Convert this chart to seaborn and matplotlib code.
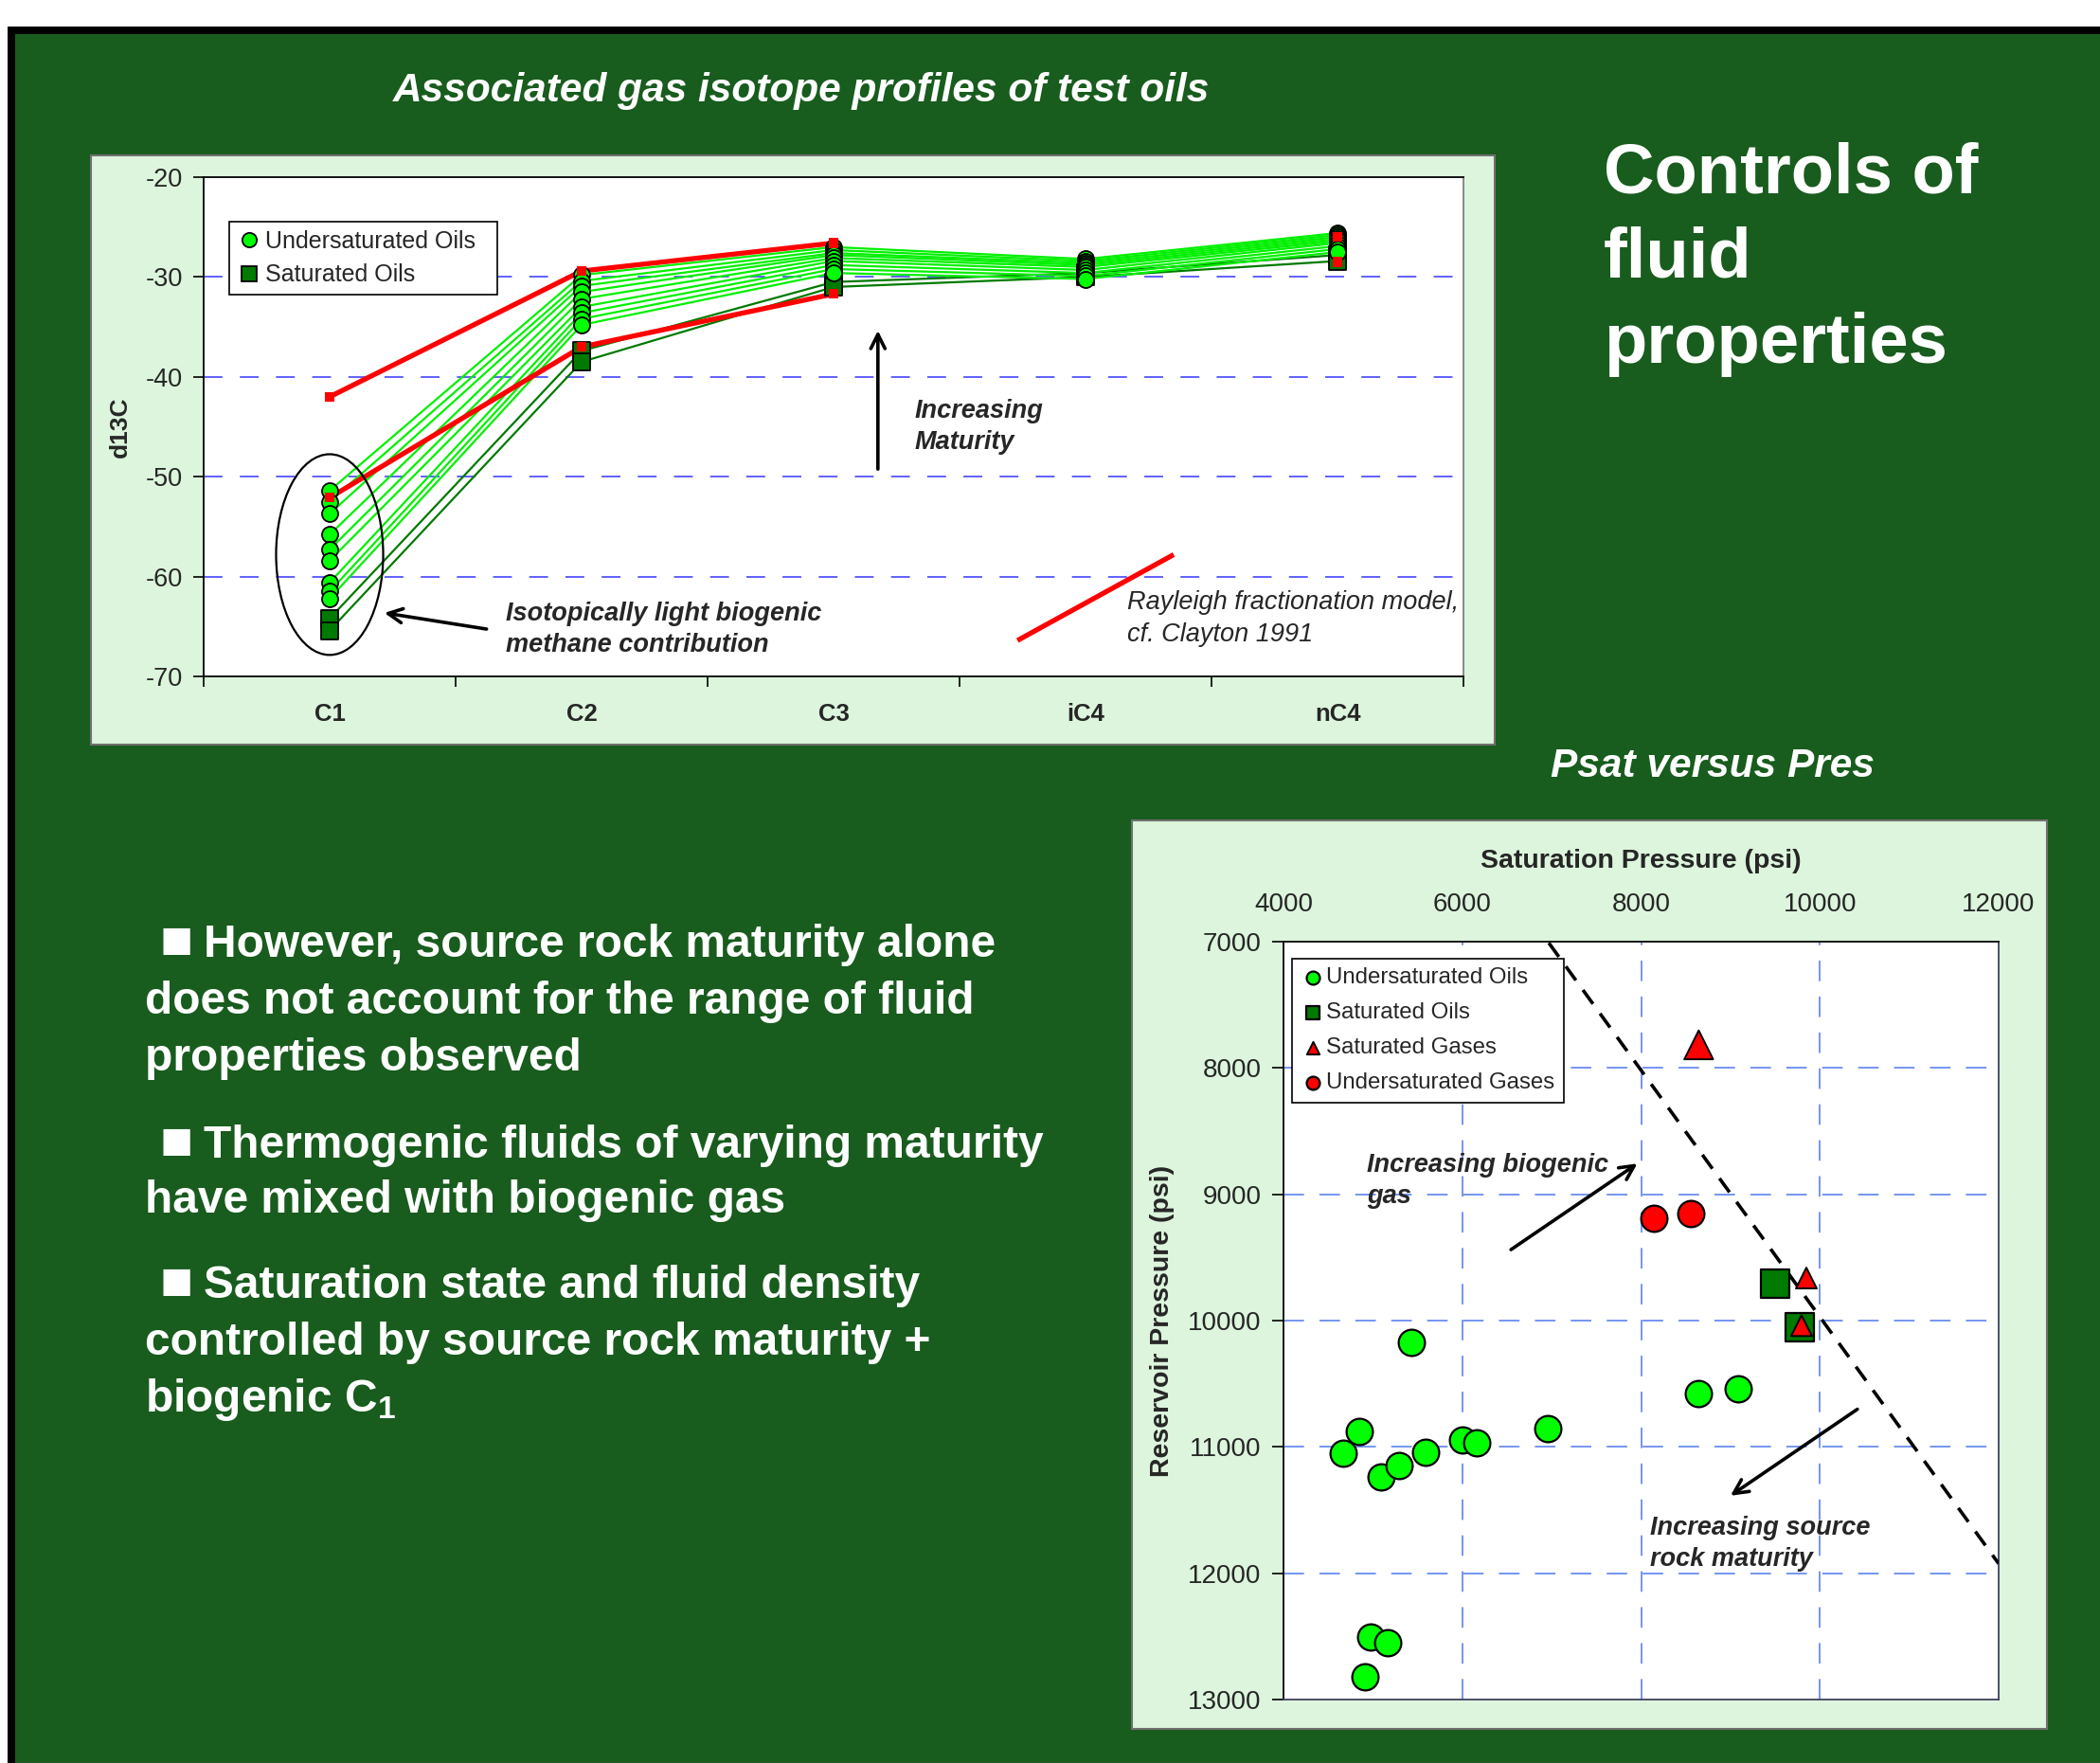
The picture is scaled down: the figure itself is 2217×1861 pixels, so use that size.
import numpy as np
import pandas as pd
import matplotlib
matplotlib.use("Agg")
import matplotlib.pyplot as plt
import seaborn as sns
from matplotlib.patches import Rectangle, Ellipse
from matplotlib.lines import Line2D

sns.set_theme(style="white")
FONT = ["Liberation Sans", "DejaVu Sans"]
plt.rcParams["font.family"] = FONT
plt.rcParams["mathtext.fontset"] = "custom"
plt.rcParams["mathtext.rm"] = "Liberation Sans:bold"
plt.rcParams["mathtext.default"] = "rm"

# ---------------- data: isotope profiles ----------------
components = ["C1", "C2", "C3", "iC4", "nC4"]
undersat_oil_profiles = [
    [-51.4, -29.8, -27.0, -28.2, -25.6],
    [-52.5, -30.4, -27.3, -28.4, -25.8],
    [-53.7, -30.9, -27.6, -28.6, -26.0],
    [-55.8, -31.5, -27.8, -28.8, -26.2],
    [-57.3, -32.2, -28.1, -29.0, -26.4],
    [-58.4, -33.0, -28.4, -29.3, -26.6],
    [-60.6, -33.6, -28.8, -29.6, -26.9],
    [-61.5, -34.2, -29.2, -29.9, -27.2],
    [-62.2, -34.8, -29.6, -30.2, -27.5],
]
sat_oil_profiles = [
    [-64.2, -37.4, -30.5, -29.6, -27.8],
    [-65.4, -38.5, -31.0, -30.0, -28.4],
]
rayleigh_upper = [-42.0, -29.4, -26.6]   # C1..C3
rayleigh_lower = [-52.1, -37.0, -31.7]   # C1..C3
rayleigh_nc4 = [-26.0, -28.5]
rayleigh_key_x = [2.73, 3.35]
rayleigh_key_y = [-66.4, -57.8]

# ---------------- data: Psat vs Pres ----------------
uo_psat = [5433, 4852, 4663, 5095, 5298, 5589, 6001, 6157, 6955, 8645, 9085, 4974, 5163, 4913]
uo_pres = [10169, 10877, 11053, 11240, 11144, 11039, 10948, 10967, 10858, 10576, 10537, 12507, 12550, 12822]
so_psat = [9504, 9774]
so_pres = [9710, 10050]
sg_psat = [8645, 9849, 9795]
sg_pres = [7817, 9663, 10040]
ug_psat = [8145, 8557]
ug_pres = [9189, 9151]
trend_psat = [6968, 12000]
trend_pres = [7010, 11924]

W, H = 2217, 1861
DPI = 100
fig = plt.figure(figsize=(W / DPI, H / DPI), dpi=DPI)
fig.patch.set_facecolor("white")

BG = "#185c1e"
PANEL = "#dcf5dc"

def fx(px):
    return px / W

def fy(py):
    return 1 - py / H

# slide frame
fig.patches.append(Rectangle((fx(8), 0), 1, fy(28), transform=fig.transFigure,
                             facecolor="black", edgecolor="none", zorder=-3))
fig.patches.append(Rectangle((fx(16), 0), 1, fy(36), transform=fig.transFigure,
                             facecolor=BG, edgecolor="none", zorder=-2))
# chart panels
fig.patches.append(Rectangle((fx(96), fy(786)), fx(1578 - 96), (786 - 164) / H,
                             transform=fig.transFigure, facecolor=PANEL,
                             edgecolor="#707070", lw=1.5, zorder=-1))
fig.patches.append(Rectangle((fx(1195), fy(1825)), fx(2161 - 1195), (1825 - 866) / H,
                             transform=fig.transFigure, facecolor=PANEL,
                             edgecolor="#707070", lw=1.5, zorder=-1))

# ---------------- top chart ----------------
ax1 = fig.add_axes([fx(215), fy(714), fx(1545 - 215), (714 - 187) / H])
ax1.set_facecolor("white")

rows = []
for i, prof in enumerate(undersat_oil_profiles):
    for j, v in enumerate(prof):
        rows.append(dict(profile=f"u{i}", pos=j, d13c=v, group="Undersaturated Oils"))
for i, prof in enumerate(sat_oil_profiles):
    for j, v in enumerate(prof):
        rows.append(dict(profile=f"s{i}", pos=j, d13c=v, group="Saturated Oils"))
df_iso = pd.DataFrame(rows)
df_u = df_iso[df_iso.group == "Undersaturated Oils"]
df_s = df_iso[df_iso.group == "Saturated Oils"]

red_rows = []
for j, v in enumerate(rayleigh_upper):
    red_rows.append(dict(profile="r0", pos=j, d13c=v))
for j, v in enumerate(rayleigh_lower):
    red_rows.append(dict(profile="r1", pos=j, d13c=v))
df_r = pd.DataFrame(red_rows)
df_r4 = pd.DataFrame(dict(pos=[4] * len(rayleigh_nc4), d13c=rayleigh_nc4))

sns.lineplot(data=df_s, x="pos", y="d13c", units="profile", estimator=None,
             color="#007a00", lw=1.6, ax=ax1, legend=False, zorder=2)
sns.lineplot(data=df_u, x="pos", y="d13c", units="profile", estimator=None,
             color="#00f000", lw=1.6, ax=ax1, legend=False, zorder=3)
sns.lineplot(data=df_r, x="pos", y="d13c", units="profile", estimator=None,
             color="#ff0000", lw=3.8, ax=ax1, legend=False, zorder=4)
sns.scatterplot(data=df_s, x="pos", y="d13c", marker="s", s=175, color="#007a00",
                edgecolor="black", linewidth=1.3, ax=ax1, legend=False, zorder=5)
sns.scatterplot(data=df_u, x="pos", y="d13c", marker="o", s=150, color="#00ff00",
                edgecolor="black", linewidth=1.3, ax=ax1, legend=False, zorder=6)
sns.scatterplot(data=pd.concat([df_r, df_r4]), x="pos", y="d13c", marker="s", s=55,
                color="#ff0000", edgecolor="none", ax=ax1, legend=False, zorder=7)

ax1.plot(rayleigh_key_x, rayleigh_key_y, color="#ff0000", lw=3.8, solid_capstyle="butt")

ax1.set_xlim(-0.5, 4.5)
ax1.set_ylim(-70, -20)
ax1.set_yticks(np.arange(-70, -19, 10))
ax1.set_yticklabels([str(v) for v in range(-70, -19, 10)], fontsize=19.5)
ax1.set_xticks(range(len(components)))
ax1.set_xticklabels(components, fontsize=18.5, fontweight="bold")
ax1.set_xticks(np.arange(-0.5, 4.6, 1.0), minor=True)
ax1.tick_params(axis="x", which="major", length=0, pad=20)
ax1.tick_params(axis="x", which="minor", length=8, width=1.2, direction="out", color="black",
                bottom=True)
ax1.tick_params(axis="y", length=8, width=1.2, direction="out", color="black", pad=8, left=True)
ax1.set_xlabel("")
ax1.set_ylabel("d13C", fontsize=19, fontweight="bold")
ax1.yaxis.set_label_coords(-0.057, 0.5)
for v in [-30, -40, -50, -60]:
    ax1.axhline(v, color="#3535ff", lw=1.1, ls=(0, (13, 12)), zorder=1)
for side in ["left", "bottom", "top"]:
    ax1.spines[side].set_color("black")
    ax1.spines[side].set_linewidth(1.3)
ax1.spines["right"].set_color("#808080")
ax1.spines["right"].set_linewidth(1.3)

ax1.add_patch(Ellipse((0, -57.8), 0.425, 20.1, fill=False, edgecolor="black", lw=1.6, zorder=8))
ax1.annotate("", xy=(0.207, -63.6), xytext=(0.633, -65.3),
             arrowprops=dict(arrowstyle="->,head_length=0.9,head_width=0.45", lw=2.6, color="black"))
ax1.text(0.70, -62.5, "Isotopically light biogenic\nmethane contribution", fontsize=19.5,
         fontweight="bold", style="italic", va="top", ha="left", linespacing=1.36)
ax1.annotate("", xy=(2.176, -35.1), xytext=(2.176, -49.5),
             arrowprops=dict(arrowstyle="->,head_length=0.9,head_width=0.45", lw=2.6, color="black"))
ax1.text(2.32, -42.2, "Increasing\nMaturity", fontsize=19.5, fontweight="bold", style="italic",
         va="top", ha="left", linespacing=1.36)
ax1.text(3.165, -61.4, "Rayleigh fractionation model,\ncf. Clayton 1991", fontsize=19.5,
         style="italic", va="top", ha="left", linespacing=1.36)

h1 = [Line2D([], [], ls="none", marker="o", ms=11, mfc="#00ff00", mec="black", mew=1.3),
      Line2D([], [], ls="none", marker="s", ms=11, mfc="#007a00", mec="black", mew=1.3)]
leg1 = ax1.legend(h1, ["Undersaturated Oils  ", "Saturated Oils"], loc="upper left",
                  bbox_to_anchor=(0.02, 0.91), fontsize=18, frameon=True, fancybox=False,
                  edgecolor="black", framealpha=1, handletextpad=0.2, handlelength=1.0,
                  labelspacing=0.45, borderpad=0.35, borderaxespad=0)
leg1.get_frame().set_linewidth(1.2)

# ---------------- bottom chart ----------------
ax2 = fig.add_axes([fx(1355), fy(1794), fx(2110 - 1355), (1794 - 994) / H])
ax2.set_facecolor("white")
ax2.plot(trend_psat, trend_pres, color="black", lw=2.6, ls=(0, (5, 3.5)), zorder=3)

sns.scatterplot(x=uo_psat, y=uo_pres, marker="o", s=400, color="#00ff00", edgecolor="black",
                linewidth=1.6, ax=ax2, zorder=5, label="Undersaturated Oils")
sns.scatterplot(x=so_psat, y=so_pres, marker="s", s=460, color="#007a00", edgecolor="black",
                linewidth=1.6, ax=ax2, zorder=5, label="Saturated Oils")
sns.scatterplot(x=sg_psat, y=sg_pres, marker="^", s=[480, 250, 250], color="#ff0000",
                edgecolor="black", linewidth=1.4, ax=ax2, zorder=6, label="Saturated Gases")
sns.scatterplot(x=ug_psat, y=ug_pres, marker="o", s=400, color="#ff0000", edgecolor="black",
                linewidth=1.6, ax=ax2, zorder=5, label="Undersaturated Gases")

ax2.set_xlim(4000, 12000)
ax2.set_ylim(13000, 7000)
ax2.xaxis.tick_top()
ax2.xaxis.set_label_position("top")
ax2.set_xticks(range(4000, 12001, 2000))
ax2.set_xticklabels([str(v) for v in range(4000, 12001, 2000)], fontsize=20)
ax2.set_yticks(range(7000, 13001, 1000))
ax2.set_yticklabels([str(v) for v in range(7000, 13001, 1000)], fontsize=20)
ax2.tick_params(axis="x", length=0, pad=19)
ax2.tick_params(axis="y", length=9, width=1.2, direction="out", color="black", pad=8, left=True)
ax2.set_xlabel("Saturation Pressure (psi)", fontsize=20.5, fontweight="bold")
ax2.xaxis.set_label_coords(0.5, 1.098)
ax2.set_ylabel("Reservoir Pressure (psi)", fontsize=20.5, fontweight="bold")
ax2.yaxis.set_label_coords(-0.152, 0.5)
for v in [6000, 8000, 10000]:
    ax2.axvline(v, color="#6a8cf0", lw=1.3, ls=(0, (12, 9)), zorder=1)
for v in [8000, 9000, 10000, 11000, 12000]:
    ax2.axhline(v, color="#6a8cf0", lw=1.3, ls=(0, (12, 9)), zorder=1)
for side in ["left", "top"]:
    ax2.spines[side].set_color("black")
    ax2.spines[side].set_linewidth(1.3)
for side in ["right", "bottom"]:
    ax2.spines[side].set_color("#404060")
    ax2.spines[side].set_linewidth(1.3)

ax2.annotate("", xy=(7983, 8745), xytext=(6520, 9450),
             arrowprops=dict(arrowstyle="->,head_length=0.9,head_width=0.45", lw=2.6, color="black"))
ax2.text(4933, 8670, "Increasing biogenic\ngas", fontsize=19.5, fontweight="bold", style="italic",
         va="top", ha="left", linespacing=1.36)
ax2.annotate("", xy=(8976, 11398), xytext=(10444, 10690),
             arrowprops=dict(arrowstyle="->,head_length=0.9,head_width=0.45", lw=2.6, color="black"))
ax2.text(8104, 11545, "Increasing source\nrock maturity", fontsize=19.5, fontweight="bold",
         style="italic", va="top", ha="left", linespacing=1.36)

leg2 = ax2.legend(loc="upper left", bbox_to_anchor=(0.012, 0.978), fontsize=17.3, frameon=True,
                  fancybox=False, edgecolor="black", framealpha=1, handletextpad=0.1,
                  handlelength=1.0, labelspacing=0.62, borderpad=0.4, borderaxespad=0,
                  markerscale=0.5)
leg2.get_frame().set_linewidth(1.2)

# ---------------- slide text ----------------
WHITE = "white"
fig.text(fx(846), fy(96), "Associated gas isotope profiles of test oils", color=WHITE,
         fontsize=30.5, fontweight="bold", style="italic", ha="center", va="center")
for txt, yy in [("Controls of", 184), ("fluid", 273), ("properties", 363)]:
    fig.text(fx(1693), fy(yy), txt, color=WHITE, fontsize=53.5, fontweight="bold",
             ha="left", va="center")
fig.text(fx(1808), fy(809), "Psat versus Pres", color=WHITE, fontsize=30.5, fontweight="bold",
         style="italic", ha="center", va="center")

bullet_marks = [(169, 996), (169, 1208), (169, 1356)]
for xx, yy in bullet_marks:
    fig.text(fx(xx), fy(yy), "\u25A0", color=WHITE, fontsize=42, ha="left", va="center")

bullet_lines = [
    ("However, source rock maturity alone", 215, 997),
    ("does not account for the range of fluid", 153, 1058),
    ("properties observed", 153, 1118),
    ("Thermogenic fluids of varying maturity", 215, 1209),
    ("have mixed with biogenic gas", 153, 1268),
    ("Saturation state and fluid density", 215, 1357),
    ("controlled by source rock maturity +", 153, 1418),
    ("biogenic C$_1$", 153, 1478),
]
for txt, xx, yy in bullet_lines:
    fig.text(fx(xx), fy(yy), txt, color=WHITE, fontsize=34.5, fontweight="bold",
             ha="left", va="center")

fig.savefig("out.png", dpi=DPI, facecolor=fig.get_facecolor())
